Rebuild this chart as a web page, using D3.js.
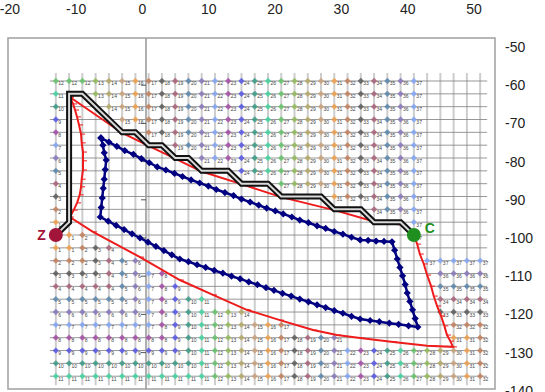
<!DOCTYPE html>
<html>
<head>
<meta charset="utf-8">
<script src="https://cdn.jsdelivr.net/npm/d3@7/dist/d3.min.js"></script>
<style>
body { margin: 0; background: #fff; }
svg { display: block; font-family: "Liberation Sans", Arial, sans-serif; }
</style>
</head>
<body>
<div id="chart"></div>
<script>
var width = 545,
	height = 392;

// axis tick labels
var xTicks = [-20, -10, 0, 10, 20, 30, 40, 50];
var yTicks = [-50, -60, -70, -80, -90, -100, -110, -120, -130, -140];

// lattice of sample points, in axis units
var gridX0 = -13.6, gridDX = 2.0,
	gridY0 = -58.9, gridDY = -3.36,
	gridCols = 33, gridRows = 24;

// sample points as runs: [row, first column, step numbers]
var cellRuns = [
	[0, 0, "12 12 12 13 14 15 16 17 18 19 20 21 22 23 24 25 26 27 28 29 30 31 32 33 34 35 36 37"],
	[1, 0, "11"], [1, 3, "13 14 15 16 17 18 19 20 21 22 23 24 25 26 27 28 29 30 31 32 33 34 35 36 37"],
	[2, 0, "10"], [2, 4, "14 15 16 17 18 19 20 21 22 23 24 25 26 27 28 29 30 31 32 33 34 35 36 37"],
	[3, 0, "9"], [3, 5, "15 16 17 18 19 20 21 22 23 24 25 26 27 28 29 30 31 32 33 34 35 36 37"],
	[4, 0, "8"], [4, 7, "17 18 19 20 21 22 23 24 25 26 27 28 29 30 31 32 33 34 35 36 37"],
	[5, 0, "7"], [5, 9, "19 20 21 22 23 24 25 26 27 28 29 30 31 32 33 34 35 36 37"],
	[6, 0, "6"], [6, 11, "21 22 23 24 25 26 27 28 29 30 31 32 33 34 35 36 37"],
	[7, 0, "5"], [7, 14, "24 25 26 27 28 29 30 31 32 33 34 35 36 37"],
	[8, 0, "4"], [8, 17, "27 28 29 30 31 32 33 34 35 36 37"],
	[9, 0, "3"], [9, 21, "31 32 33 34 35 36 37"],
	[10, 0, "2"], [10, 24, "34 35 36 37"],
	[11, 0, "1"], [11, 27, "37"],
	[12, 1, "1 2"], [12, 27, "37"],
	[13, 0, "1 1 2 3 4"],
	[14, 0, "2 2 2 3 4 5 6"], [14, 28, "37 37 37 37 37"],
	[15, 0, "3 3 3 3 4 5 6 7 8"], [15, 29, "36 36 36 36"],
	[16, 0, "4 4 4 4 4 5 6 7 8 9"], [16, 29, "35 35 35 35"],
	[17, 0, "5 5 5 5 5 5 6 7 8 9 10 11"], [17, 29, "34 34 34 34"],
	[18, 0, "6 6 6 6 6 6 6 7 8 9 10 11 12 13 14"], [18, 29, "33 33 33 33"],
	[19, 0, "7 7 7 7 7 7 7 7 8 9 10 11 12 13 14 15 16 17"], [19, 30, "32 32 32"],
	[20, 0, "8 8 8 8 8 8 8 8 8 9 10 11 12 13 14 15 16 17 18 19 20 21"], [20, 30, "31 31 32"],
	[21, 0, "9 9 9 9 9 9 9 9 9 9 10 11 12 13 14 15 16 17 18 19 20 21 22 23 24 25 26 27 28 29 30 31 32"],
	[22, 0, "10 10 10 10 10 10 10 10 10 10 10 11 12 13 14 15 16 17 18 19 20 21 22 23 24 25 26 27 28 29 30 31 32"],
	[23, 0, "11 11 11 11 11 11 11 11 11 11 11 11 12 13 14 15 16 17 18 19 20 21 22 23 24 25 26 27 28 29 30 31 32"]
];

// colour of a step number (number mod 15)
var stepColors = ["#c9a27e", "#eea04f", "#c2805e", "#5c5c5c", "#a8627a",
	"#5c86ab", "#8777b8", "#84a6f4", "#a24ea6", "#5656e4",
	"#3c9a86", "#44d2a0", "#66c26c", "#92ba5c", "#b4a868"];

// route found, lattice columns / rows
var routeCol = [0, 1, 1, 2, 5, 6, 7, 8, 9, 10, 11, 13, 14, 16, 17, 20, 21, 23, 24, 26, 27];
var routeRow = [12, 11, 1, 1, 4, 4, 5, 5, 6, 6, 7, 7, 8, 8, 9, 9, 10, 10, 11, 11, 12];

// red boundary
var redX = [-11.5, -3.6, 0.4, 4.4, 8.4, 14.4, 20.4, 28.4, 34.4, 38.4, 40.4,
	40.9, 41.3, 41.9, 42.4, 43.0, 43.4, 43.9, 44.5, 45.0, 45.4, 45.9, 46.3,
	42.4, 37.3, 32.3, 28.8, 25.2, 20.2, 15.2, 10.1, 5.1, -0.9, -8.0, -11.5,
	-10.9, -10.4, -10.0, -9.8, -9.7, -9.5, -9.5, -9.5, -9.7, -9.8, -10.1, -10.4, -10.7, -11.0, -11.5];
var redY = [-63.1, -72.5, -75.9, -79.2, -82.6, -85.9, -89.3, -92.7, -95.7, -96.5, -99.2,
	-101.6, -104.2, -106.8, -109.7, -112.6, -115.2, -117.8, -120.4, -123.0, -125.4, -127.0, -128.5,
	-128.2, -127.2, -126.2, -125.4, -124.1, -121.5, -118.8, -114.9, -111.0, -105.0, -98.4, -94.5,
	-92.7, -90.8, -88.7, -86.6, -84.6, -82.2, -79.8, -77.5, -75.1, -72.8, -70.4, -68.3, -66.5, -64.9, -63.1];

// blue obstacle outline
var blueX = [-6.8, -5.6, -4.4, -3.2, -1.9, -0.7, 0.5, 1.7,
	3.0, 4.3, 5.5, 6.8, 8.1,
	9.4, 10.6, 11.9, 13.2, 14.4, 15.7,
	17.0, 18.2, 19.5, 20.7, 22.0, 23.2,
	24.5, 25.8, 27.1, 28.4, 29.7, 31.0, 32.3,
	33.5, 34.7, 35.9, 37.1,
	37.5, 37.9, 38.3, 38.7, 39.1, 39.4, 39.8, 40.2, 40.6, 41.0,
	39.6, 38.1, 36.7, 35.2, 33.8, 32.3,
	31.0, 29.7, 28.4, 27.1, 25.8, 24.5, 23.2, 21.9, 20.6, 19.3, 18.1, 16.8, 15.5, 14.2, 12.9, 11.6, 10.3, 9.0, 7.7, 6.4, 5.1,
	3.9, 2.7, 1.5, 0.3, -0.9, -2.1, -3.3, -4.5, -5.7, -6.9,
	-6.75, -6.6, -6.45, -6.3, -6.15, -6.0,
	-6.3, -6.5, -6.8];
var blueY = [-73.8, -74.9, -76.0, -77.1, -78.1, -79.2, -80.3, -81.4,
	-82.2, -83.1, -83.9, -84.8, -85.6,
	-86.4, -87.3, -88.1, -88.9, -89.8, -90.6,
	-91.4, -92.2, -92.9, -93.7, -94.5, -95.3,
	-96.0, -96.8, -97.5, -98.3, -99.0, -99.8, -100.5,
	-100.6, -100.8, -100.9, -101.0,
	-103.2, -105.5, -107.7, -109.9, -112.2, -114.4, -116.6, -118.8, -121.1, -123.3,
	-123.0, -122.6, -122.3, -121.9, -121.6, -121.2,
	-120.5, -119.7, -119.0, -118.2, -117.5, -116.7, -116.0, -115.2, -114.5, -113.7, -113.0, -112.2, -111.5, -110.7, -110.0, -109.2, -108.5, -107.7, -107.0, -106.2, -105.5,
	-104.4, -103.3, -102.2, -101.1, -100.0, -98.9, -97.8, -96.7, -95.6, -94.5,
	-92.0, -89.5, -87.0, -84.6, -82.1, -79.6,
	-77.7, -75.7, -73.8];

// start and goal
var endNames = ["Z", "C"];
var endCols = [0, 27];
var endRows = [12, 12];

//svg
var svg = d3.select("#chart")
	.append("svg")
	.attr("width", width)
	.attr("height", height);

//scales
var x = d3.scaleLinear().domain([-20, 50]).range([13.4, 477.5]);
var y = d3.scaleLinear().domain([-50, -140]).range([47, 390.8]);

function gx(c) { return x(gridX0 + c * gridDX); }
function gy(r) { return y(gridY0 + r * gridDY); }

var cells = [];
cellRuns.forEach(function(run) {
	run[2].split(" ").forEach(function(v, k) {
		cells.push({row: run[0], col: run[1] + k, value: +v});
	});
});

// plot frame
svg.append("rect")
	.attr("x", 8).attr("y", 38)
	.attr("width", 487).attr("height", 351)
	.attr("fill", "none")
	.attr("stroke", "#a6a6a6")
	.attr("stroke-width", 1.6);

// lattice lines
var grid = svg.append("g");
grid.selectAll("line.v")
	.data(d3.range(gridCols))
	.enter().append("line")
	.attr("class", "v")
	.attr("x1", gx).attr("x2", gx)
	.attr("y1", gy(0) - 8).attr("y2", gy(gridRows - 1) + 9)
	.attr("stroke", "#cdcdcd")
	.attr("stroke-width", 2);
grid.selectAll("line.h")
	.data(d3.range(gridRows))
	.enter().append("line")
	.attr("class", "h")
	.attr("y1", gy).attr("y2", gy)
	.attr("x1", gx(0) - 6).attr("x2", gx(gridCols - 1) + 7)
	.attr("stroke", "#7d7d7d")
	.attr("stroke-width", 0.8);

// vertical axis at x = 0
svg.append("line")
	.attr("x1", x(0)).attr("x2", x(0))
	.attr("y1", 38).attr("y2", 389)
	.attr("stroke", "#9c9c9c")
	.attr("stroke-width", 1.6);
svg.selectAll("line.ytick")
	.data(yTicks.slice(1, -1))
	.enter().append("line")
	.attr("class", "ytick")
	.attr("x1", x(0) - 5).attr("x2", x(0))
	.attr("y1", y).attr("y2", y)
	.attr("stroke", "#555");

// sample points
var pts = svg.append("g").selectAll("g")
	.data(cells)
	.enter().append("g")
	.attr("transform", function(d) { return "translate(" + gx(d.col) + "," + gy(d.row) + ")"; });
pts.append("path")
	.attr("d", d3.symbol().type(d3.symbolSquare).size(20))
	.attr("transform", "rotate(45)")
	.attr("fill", function(d) { return stepColors[d.value % 15]; })
	.attr("opacity", 0.85);
pts.append("text")
	.attr("x", 2.5).attr("y", 4.5)
	.attr("font-size", 5)
	.attr("fill", "#444")
	.text(function(d) { return d.value; });

// red boundary
var redPts = redX.map(function(v, i) { return [v, redY[i]]; });
var axisLine = d3.line()
	.x(function(d) { return x(d[0]); })
	.y(function(d) { return y(d[1]); });
svg.append("path")
	.attr("d", axisLine(redPts))
	.attr("fill", "none")
	.attr("stroke", "#ee1c1c")
	.attr("stroke-width", 2);
svg.selectAll("line.redtick")
	.data(redPts)
	.enter().append("line")
	.attr("class", "redtick")
	.attr("x1", function(d) { return x(d[0]); })
	.attr("x2", function(d) { return x(d[0]) + 4; })
	.attr("y1", function(d) { return y(d[1]); })
	.attr("y2", function(d) { return y(d[1]); })
	.attr("stroke", "#ee1c1c")
	.attr("stroke-width", 1);

// blue obstacle
var bluePts = blueX.map(function(v, i) { return [v, blueY[i]]; });
svg.append("path")
	.attr("d", axisLine(bluePts))
	.attr("fill", "none")
	.attr("stroke", "#000080")
	.attr("stroke-width", 2.5);
svg.selectAll("path.bm")
	.data(bluePts)
	.enter().append("path")
	.attr("class", "bm")
	.attr("d", d3.symbol().type(d3.symbolSquare).size(26))
	.attr("transform", function(d) { return "translate(" + x(d[0]) + "," + y(d[1]) + ") rotate(45)"; })
	.attr("fill", "#000080");

// route
var routePts = routeCol.map(function(c, i) { return [c, routeRow[i]]; });
var gridLine = d3.line()
	.x(function(d) { return gx(d[0]); })
	.y(function(d) { return gy(d[1]); });
svg.append("path")
	.attr("d", gridLine(routePts))
	.attr("fill", "none")
	.attr("stroke", "#111")
	.attr("stroke-width", 6);
svg.append("path")
	.attr("d", gridLine(routePts))
	.attr("fill", "none")
	.attr("stroke", "#d9d9d9")
	.attr("stroke-width", 2);

// start and goal
var endColors = ["#a3143a", "#1f8f1f"];
endNames.forEach(function(n, i) {
	svg.append("circle")
		.attr("cx", gx(endCols[i])).attr("cy", gy(endRows[i]))
		.attr("r", 7)
		.attr("fill", endColors[i]);
	svg.append("text")
		.attr("x", i == 0 ? gx(endCols[i]) - 10 : gx(endCols[i]) + 11)
		.attr("y", i == 0 ? gy(endRows[i]) + 5 : gy(endRows[i]) - 2)
		.attr("text-anchor", i == 0 ? "end" : "start")
		.attr("font-size", 14)
		.attr("font-weight", "bold")
		.attr("fill", endColors[i])
		.text(n);
});

// axes
var xAxis = d3.axisTop(x).tickValues(xTicks).tickSize(0).tickPadding(0)
	.tickFormat(function(d) { return String(d); });
var gX = svg.append("g")
	.attr("transform", "translate(-4,13.5)")
	.call(xAxis);
var yAxis = d3.axisRight(y).tickValues(yTicks).tickSize(0).tickPadding(0)
	.tickFormat(function(d) { return String(d); });
var gY = svg.append("g")
	.attr("transform", "translate(505,0)")
	.call(yAxis);
[gX, gY].forEach(function(g) {
	g.select(".domain").remove();
	g.attr("font-size", 14).attr("font-family", null);
	g.selectAll("text").attr("fill", "#222");
});
</script>
</body>
</html>
